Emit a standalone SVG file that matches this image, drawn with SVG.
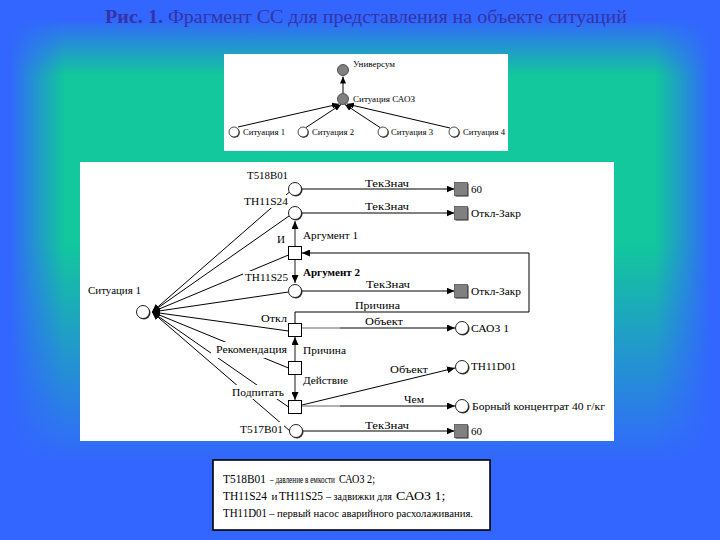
<svg xmlns="http://www.w3.org/2000/svg" width="720" height="540" viewBox="0 0 720 540">
<style>
text{font-family:"Liberation Serif","DejaVu Serif",serif;fill:#000}
.t{font-size:11px}
.s{font-size:9px}
.lg{font-size:13px}
.lsm{font-size:11px}
.ln{stroke:#000;stroke-width:1;fill:none}
.gl{stroke:#8c8c8c;stroke-width:2;fill:none}
.bg{fill:#fff}
.ttl{font-size:18px;fill:#3434a6}
</style>
<defs>
<linearGradient id="gx" x1="0" y1="0" x2="1" y2="0">
<stop offset="0" stop-color="#000"/><stop offset="0.012" stop-color="#000"/><stop offset="0.09" stop-color="#fff"/><stop offset="0.91" stop-color="#fff"/><stop offset="0.988" stop-color="#000"/><stop offset="1" stop-color="#000"/>
</linearGradient>
<linearGradient id="gy" x1="0" y1="0" x2="0" y2="1">
<stop offset="0" stop-color="#000"/><stop offset="0.035" stop-color="#000"/><stop offset="0.14" stop-color="#fff"/><stop offset="0.45" stop-color="#fff"/><stop offset="0.86" stop-color="#000"/><stop offset="1" stop-color="#000"/>
</linearGradient>
<mask id="mx" maskUnits="userSpaceOnUse" x="0" y="0" width="720" height="540"><rect width="720" height="540" fill="url(#gx)"/></mask>
<mask id="my" maskUnits="userSpaceOnUse" x="0" y="0" width="720" height="540"><rect width="720" height="540" fill="url(#gy)"/></mask>
<marker id="ae" viewBox="0 0 8 7" refX="8" refY="3.5" markerWidth="8" markerHeight="7" markerUnits="userSpaceOnUse" orient="auto"><path d="M0,0L8,3.5L0,7z" fill="#000"/></marker>
<marker id="as" viewBox="0 0 8 7" refX="8" refY="3.5" markerWidth="8" markerHeight="7" markerUnits="userSpaceOnUse" orient="auto-start-reverse"><path d="M0,0L8,3.5L0,7z" fill="#000"/></marker>
<marker id="ts" viewBox="0 0 7 6" refX="7" refY="3" markerWidth="7" markerHeight="6" markerUnits="userSpaceOnUse" orient="auto"><path d="M0,0L7,3L0,6z" fill="#000"/></marker>
<g id="wc"><circle cx="1" cy="1" r="6.5" fill="#333"/><circle r="6.5" fill="#fff" stroke="#222" stroke-width="1"/></g>
<g id="gs"><rect x="-5.5" y="-5.5" width="13" height="13" fill="#222"/><rect x="-6.5" y="-6.5" width="13" height="13" fill="#808080" stroke="#555" stroke-width="0.8"/></g>
<g id="ws"><rect x="-6.5" y="-6.5" width="13" height="13" fill="#fff" stroke="#000" stroke-width="1"/></g>
<g id="tc"><circle cx="0.8" cy="0.8" r="5" fill="#333"/><circle r="5" fill="#fff" stroke="#222" stroke-width="0.8"/></g>
<g id="tg"><circle r="5.5" fill="#808080" stroke="#333" stroke-width="0.8"/></g>
</defs>

<!-- background -->
<rect width="720" height="540" fill="#3366ff"/>
<g mask="url(#my)"><rect width="720" height="540" fill="#12c89c" mask="url(#mx)"/></g>

<!-- title -->
<g id="title">
<text class="ttl" x="105" y="23" font-weight="bold" textLength="58" lengthAdjust="spacingAndGlyphs">Рис. 1.</text>
<text class="ttl" x="168" y="23" textLength="459" lengthAdjust="spacingAndGlyphs">Фрагмент СС для представления на объекте ситуаций</text>
</g>

<!-- top panel -->
<g id="top-panel">
<rect x="224" y="54" width="284" height="97" fill="#fff"/>
<g id="top-connectors" class="ln">
<line x1="343" y1="93" x2="343" y2="76.5" marker-end="url(#ts)"/>
<line x1="238" y1="127" x2="339" y2="104" marker-end="url(#ts)"/>
<line x1="306" y1="127.5" x2="341" y2="104.5" marker-end="url(#ts)"/>
<line x1="380" y1="127.5" x2="345" y2="104.5" marker-end="url(#ts)"/>
<line x1="450" y1="128" x2="347" y2="104" marker-end="url(#ts)"/>
</g>
<g id="t-universum"><use href="#tg" x="343" y="70"/><text class="s" x="353" y="67" textLength="42" lengthAdjust="spacingAndGlyphs">Универсум</text></g>
<g id="t-saoz"><use href="#tg" x="343" y="99"/><text class="s" x="353" y="102" textLength="62" lengthAdjust="spacingAndGlyphs">Ситуация САОЗ</text></g>
<g id="t-s1"><use href="#tc" x="234" y="132"/><text class="s" x="243" y="135" textLength="42" lengthAdjust="spacingAndGlyphs">Ситуация 1</text></g>
<g id="t-s2"><use href="#tc" x="303" y="132"/><text class="s" x="312" y="135" textLength="42" lengthAdjust="spacingAndGlyphs">Ситуация 2</text></g>
<g id="t-s3"><use href="#tc" x="383" y="132"/><text class="s" x="391" y="135" textLength="42" lengthAdjust="spacingAndGlyphs">Ситуация 3</text></g>
<g id="t-s4"><use href="#tc" x="454" y="132"/><text class="s" x="463" y="135" textLength="42" lengthAdjust="spacingAndGlyphs">Ситуация 4</text></g>
</g>

<!-- main panel -->
<rect x="80" y="162" width="534" height="279" fill="#fff"/>

<g id="connectors">
<g class="ln">
<line x1="152" y1="312" x2="289.5" y2="192" marker-start="url(#as)"/>
<line x1="152" y1="312" x2="289" y2="216" marker-start="url(#as)"/>
<line x1="152" y1="312" x2="288.5" y2="255" marker-start="url(#as)"/>
<line x1="152" y1="312" x2="288.5" y2="292" marker-start="url(#as)"/>
<line x1="152" y1="312" x2="288.5" y2="331" marker-start="url(#as)"/>
<line x1="152" y1="312" x2="288.5" y2="368" marker-start="url(#as)"/>
<line x1="152" y1="312" x2="288.5" y2="407" marker-start="url(#as)"/>
<line x1="152" y1="312" x2="290" y2="431" marker-start="url(#as)"/>
<line x1="302" y1="189" x2="454.5" y2="189" marker-end="url(#ae)"/>
<line x1="302" y1="213" x2="454.5" y2="213" marker-end="url(#ae)"/>
<line x1="302" y1="291" x2="454.5" y2="291" marker-end="url(#ae)"/>
<line x1="302" y1="431" x2="454.5" y2="431" marker-end="url(#ae)"/>
<path d="M295,323.5V312H529V253H302" marker-end="url(#ae)"/>
<line x1="340" y1="328" x2="455" y2="328" marker-end="url(#ae)"/>
<line x1="302" y1="405" x2="455" y2="368" marker-end="url(#ae)"/>
<line x1="340" y1="406" x2="455" y2="406" marker-end="url(#ae)"/>
</g>
<line x1="302" y1="328" x2="340" y2="328" stroke="#999" stroke-width="1.5"/>
<line x1="302" y1="406" x2="340" y2="406" stroke="#999" stroke-width="1.5"/>
<g class="gl">
<line x1="295" y1="246.5" x2="295" y2="221" marker-end="url(#ae)"/>
<line x1="295" y1="259.5" x2="295" y2="283" marker-end="url(#ae)"/>
<line x1="295" y1="361.5" x2="295" y2="337" marker-end="url(#ae)"/>
<line x1="295" y1="374.5" x2="295" y2="400" marker-end="url(#ae)"/>
</g>
<g class="t">
<text x="365" y="187" textLength="44" lengthAdjust="spacingAndGlyphs">ТекЗнач</text>
<text x="365" y="210" textLength="44" lengthAdjust="spacingAndGlyphs">ТекЗнач</text>
<text x="303" y="239" textLength="55" lengthAdjust="spacingAndGlyphs">Аргумент 1</text>
<text x="303" y="276" font-weight="bold" textLength="57" lengthAdjust="spacingAndGlyphs">Аргумент 2</text>
<text x="366" y="288" textLength="44" lengthAdjust="spacingAndGlyphs">ТекЗнач</text>
<text x="355" y="309" textLength="45" lengthAdjust="spacingAndGlyphs">Причина</text>
<text x="365" y="325" textLength="38" lengthAdjust="spacingAndGlyphs">Объект</text>
<text x="303" y="354" textLength="43" lengthAdjust="spacingAndGlyphs">Причина</text>
<text x="303" y="384" textLength="45" lengthAdjust="spacingAndGlyphs">Действие</text>
<text x="390" y="373" textLength="38" lengthAdjust="spacingAndGlyphs">Объект</text>
<text x="404" y="403" textLength="20" lengthAdjust="spacingAndGlyphs">Чем</text>
<text x="365" y="429" textLength="44" lengthAdjust="spacingAndGlyphs">ТекЗнач</text>
</g>
</g>

<g id="n-situation1"><use href="#wc" x="143" y="312"/><text class="t" x="88" y="294" textLength="53" lengthAdjust="spacingAndGlyphs">Ситуация 1</text></g>
<g id="n-T518B01"><rect class="bg" x="245" y="170" width="46" height="12"/><use href="#wc" x="295" y="189"/><text class="t" x="247" y="179" textLength="41" lengthAdjust="spacingAndGlyphs">T518B01</text></g>
<g id="n-TH11S24"><rect class="bg" x="242" y="195" width="48" height="13"/><use href="#wc" x="295" y="213"/><text class="t" x="244" y="205" textLength="44" lengthAdjust="spacingAndGlyphs">TH11S24</text></g>
<g id="n-I"><rect class="bg" x="275" y="233" width="12" height="13"/><use href="#ws" x="295" y="253"/><text class="t" x="277" y="243" textLength="8" lengthAdjust="spacingAndGlyphs">И</text></g>
<g id="n-TH11S25"><rect class="bg" x="243" y="271" width="46" height="13"/><use href="#wc" x="295" y="291"/><text class="t" x="245" y="281" textLength="43" lengthAdjust="spacingAndGlyphs">TH11S25</text></g>
<g id="n-otkl"><rect class="bg" x="259" y="312" width="30" height="13"/><use href="#ws" x="295" y="330"/><text class="t" x="261" y="322" textLength="26" lengthAdjust="spacingAndGlyphs">Откл</text></g>
<g id="n-rekom"><rect class="bg" x="211" y="342" width="78" height="16"/><use href="#ws" x="295" y="368"/><text class="t" x="216" y="353" textLength="71" lengthAdjust="spacingAndGlyphs">Рекомендация</text></g>
<g id="n-podpitat"><rect class="bg" x="229" y="385" width="57" height="14"/><use href="#ws" x="295" y="407"/><text class="t" x="232" y="396" textLength="52" lengthAdjust="spacingAndGlyphs">Подпитать</text></g>
<g id="n-T517B01"><rect class="bg" x="238" y="422" width="46" height="13"/><use href="#wc" x="296" y="431"/><text class="t" x="240" y="433" textLength="43" lengthAdjust="spacingAndGlyphs">T517B01</text></g>

<g id="v-60a"><use href="#gs" x="461" y="189"/><text class="t" x="471" y="193" textLength="11" lengthAdjust="spacingAndGlyphs">60</text></g>
<g id="v-otklzakr1"><use href="#gs" x="461" y="213"/><text class="t" x="471" y="217" textLength="50" lengthAdjust="spacingAndGlyphs">Откл-Закр</text></g>
<g id="v-otklzakr2"><use href="#gs" x="461" y="291"/><text class="t" x="471" y="295" textLength="50" lengthAdjust="spacingAndGlyphs">Откл-Закр</text></g>
<g id="v-saoz1"><use href="#wc" x="462" y="328"/><text class="t" x="471" y="332" textLength="38" lengthAdjust="spacingAndGlyphs">САОЗ 1</text></g>
<g id="v-TH11D01"><use href="#wc" x="462" y="367"/><text class="t" x="471" y="370" textLength="45" lengthAdjust="spacingAndGlyphs">TH11D01</text></g>
<g id="v-boric"><use href="#wc" x="462" y="406"/><text class="t" x="472" y="410" textLength="133" lengthAdjust="spacingAndGlyphs">Борный концентрат 40 г/кг</text></g>
<g id="v-60b"><use href="#gs" x="461" y="431"/><text class="t" x="471" y="435" textLength="11" lengthAdjust="spacingAndGlyphs">60</text></g>

<!-- legend -->
<g id="legend">
<rect x="213" y="460" width="277" height="70" fill="#fff" stroke="#000" stroke-width="1.6"/>
<text class="lg" transform="translate(223,483) scale(0.87,1)" textLength="49.4" lengthAdjust="spacingAndGlyphs">T518B01</text>
<text class="lsm" transform="translate(270,483) scale(0.64,1)" textLength="101.5" lengthAdjust="spacingAndGlyphs">– давление в емкости</text>
<text class="lg" transform="translate(339,483) scale(0.74,1)" textLength="48.6" lengthAdjust="spacingAndGlyphs">САОЗ 2;</text>
<text class="lg" transform="translate(223,500) scale(0.88,1)" textLength="50" lengthAdjust="spacingAndGlyphs">TH11S24</text>
<text class="lsm" x="271.5" y="500">и</text>
<text class="lg" transform="translate(279,500) scale(0.88,1)" textLength="50" lengthAdjust="spacingAndGlyphs">TH11S25</text>
<text class="lsm" transform="translate(326,500) scale(0.89,1)" textLength="74" lengthAdjust="spacingAndGlyphs">– задвижки для</text>
<text class="lg" transform="translate(396,500) scale(0.9,1)" textLength="55" lengthAdjust="spacingAndGlyphs">САОЗ 1;</text>
<text class="lg" transform="translate(223,517) scale(0.83,1)" textLength="53" lengthAdjust="spacingAndGlyphs">TH11D01</text>
<text class="lsm" x="269" y="517" textLength="204" lengthAdjust="spacingAndGlyphs">– первый насос аварийного расхолаживания.</text>
</g>
</svg>
